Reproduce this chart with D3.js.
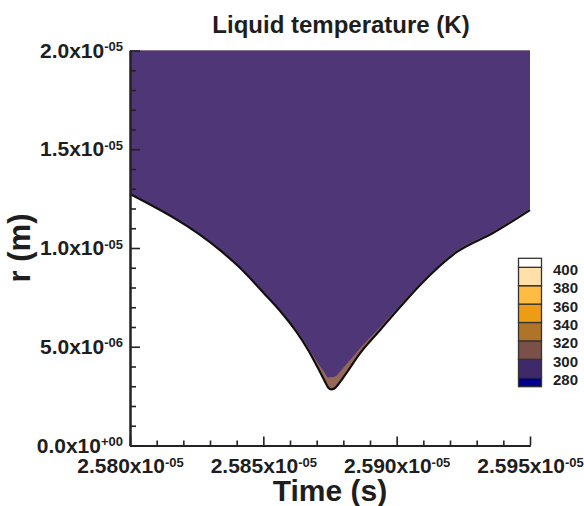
<!DOCTYPE html>
<html>
<head>
<meta charset="utf-8">
<script src="https://cdn.jsdelivr.net/npm/d3@7"></script>
<style>
  html, body { margin: 0; padding: 0; background: #fff; }
  svg { display: block; }
  text { font-family: "Liberation Sans", Arial, Helvetica, sans-serif; font-weight: bold; fill: #1e1e1e; }
</style>
</head>
<body>
<script>
// Liquid/gas interface radius over time (bottom of the liquid region)
const timeS = [
  2.58000e-5, 2.58341e-5, 2.58413e-5, 2.58503e-5, 2.58563e-5, 2.58619e-5,
  2.58668e-5, 2.58705e-5, 2.58728e-5, 2.58743e-5, 2.58754e-5, 2.58769e-5,
  2.58788e-5, 2.58814e-5, 2.58863e-5, 2.58938e-5, 2.59013e-5, 2.59088e-5,
  2.59226e-5, 2.59361e-5, 2.59500e-5
];
const rInterface = [
  12.73e-6, 9.85e-6, 8.99e-6, 7.70e-6, 6.81e-6, 5.85e-6,
  4.84e-6, 3.92e-6, 3.32e-6, 2.94e-6, 2.84e-6, 2.91e-6,
  3.22e-6, 3.72e-6, 4.68e-6, 5.85e-6, 7.01e-6, 8.13e-6,
  9.80e-6, 10.76e-6, 11.92e-6
];
// 300 K isotherm inside the liquid, just above the interface
const r300K = [
  12.73e-6, 9.85e-6, 8.99e-6, 7.73e-6, 6.86e-6, 5.95e-6,
  4.99e-6, 4.17e-6, 3.72e-6, 3.45e-6, 3.45e-6, 3.49e-6,
  3.75e-6, 4.15e-6, 4.93e-6, 6.00e-6, 7.11e-6, 8.21e-6,
  9.88e-6, 10.84e-6, 12.00e-6
];

const xMajorTicks = [2.580e-5, 2.585e-5, 2.590e-5, 2.595e-5];
const xMajorLabels = [["2.580x10", "-05"], ["2.585x10", "-05"], ["2.590x10", "-05"], ["2.595x10", "-05"]];
const xMinorTicks = [
  2.581e-5, 2.582e-5, 2.583e-5, 2.584e-5, 2.586e-5, 2.587e-5, 2.588e-5, 2.589e-5,
  2.591e-5, 2.592e-5, 2.593e-5, 2.594e-5
];
const yMajorTicks = [0, 5e-6, 1e-5, 1.5e-5, 2e-5];
const yMajorLabels = [["0.0x10", "+00"], ["5.0x10", "-06"], ["1.0x10", "-05"], ["1.5x10", "-05"], ["2.0x10", "-05"]];
const yMinorTicks = [
  1e-6, 2e-6, 3e-6, 4e-6, 6e-6, 7e-6, 8e-6, 9e-6,
  11e-6, 12e-6, 13e-6, 14e-6, 16e-6, 17e-6, 18e-6, 19e-6
];

// Contour levels (K) and their fill colours, lowest band first
const levels = [280, 300, 320, 340, 360, 380, 400];
const bandColors = ["#00008e", "#3e2a6b", "#7a5048", "#b07428", "#ee9c14", "#ffbb42", "#ffe0a8", "#ffffff"];

const liquidFill = "#4f3676";   // 280–300 K band as shaded in the field
const warmFill = "#966858";     // 300–320 K band near the interface

const W = 584, H = 506;
const svg = d3.select("body").append("svg").attr("width", W).attr("height", H);

const x = d3.scaleLinear().domain([2.58e-5, 2.595e-5]).range([130, 530]);
const y = d3.scaleLinear().domain([0, 2e-5]).range([445.5, 50.5]);

const pts = timeS.map((t, i) => ({ t, r: rInterface[i], r3: r300K[i] }));
const rTop = 2e-5;

// Warm band: from the interface up to the top of the domain
svg.append("path")
  .datum(pts)
  .attr("fill", warmFill)
  .attr("d", d3.area().curve(d3.curveMonotoneX)
    .x(d => x(d.t)).y0(d => y(d.r)).y1(y(rTop)));

// Bulk liquid: above the 300 K isotherm
svg.append("path")
  .datum(pts)
  .attr("fill", liquidFill)
  .attr("d", d3.area().curve(d3.curveMonotoneX)
    .x(d => x(d.t)).y0(d => y(d.r3)).y1(y(rTop)));

// Interface line
svg.append("path")
  .datum(pts)
  .attr("fill", "none")
  .attr("stroke", "#111")
  .attr("stroke-width", 2.2)
  .attr("stroke-linejoin", "round")
  .attr("d", d3.line().curve(d3.curveMonotoneX).x(d => x(d.t)).y(d => y(d.r)));

// Axes: minor and major ticks pointing into the plot
function styleAxis(g) {
  g.selectAll("path.domain").attr("stroke", "#222").attr("stroke-width", 2);
  g.selectAll(".tick line").attr("stroke", "#222").attr("stroke-width", 1.6);
}
function supLabels(g, labels, supDy, supSize) {
  g.selectAll(".tick text").each(function (d, i) {
    const t = d3.select(this);
    t.text(null);
    t.append("tspan").text(labels[i][0]);
    t.append("tspan").attr("dy", supDy).attr("font-size", supSize).text(labels[i][1]);
  });
}

svg.append("g").attr("transform", "translate(0,445.5)")
  .call(d3.axisBottom(x).tickValues(xMinorTicks).tickSize(-5).tickSizeOuter(0).tickFormat(""))
  .call(styleAxis);
svg.append("g").attr("transform", "translate(130,0)")
  .call(d3.axisLeft(y).tickValues(yMinorTicks).tickSize(-6).tickSizeOuter(0).tickFormat(""))
  .call(styleAxis);

const xAxisG = svg.append("g").attr("transform", "translate(0,445.5)")
  .call(d3.axisBottom(x).tickValues(xMajorTicks).tickSize(-9).tickSizeOuter(0).tickPadding(13))
  .call(styleAxis);
xAxisG.selectAll(".tick text").attr("font-size", 21).attr("font-family", null).attr("fill", "#1e1e1e");
supLabels(xAxisG, xMajorLabels, "-0.5em", 13);

const yAxisG = svg.append("g").attr("transform", "translate(130,0)")
  .call(d3.axisLeft(y).tickValues(yMajorTicks).tickSize(-10).tickSizeOuter(0).tickPadding(7))
  .call(styleAxis);
yAxisG.selectAll(".tick text").attr("font-size", 21).attr("font-family", null).attr("fill", "#1e1e1e");
supLabels(yAxisG, yMajorLabels, "-0.5em", 13);

// Titles
svg.append("text").attr("x", 341).attr("y", 33).attr("text-anchor", "middle")
  .attr("font-size", 24).text("Liquid temperature (K)");
svg.append("text").attr("x", 330).attr("y", 501).attr("text-anchor", "middle")
  .attr("font-size", 30).text("Time (s)");
svg.append("text").attr("transform", "translate(30,248) rotate(-90)").attr("text-anchor", "middle")
  .attr("font-size", 31).text("r (m)");

// Colour legend: one box per band, level labels on the boundaries
const legY = d3.scaleLinear().domain([280, 400]).range([377.7, 267.3]);
const bandStep = legY(280) - legY(300);
const endBox = 9;
const leg = svg.append("g");
leg.selectAll("rect").data(bandColors).enter().append("rect")
  .attr("x", 518.5)
  .attr("width", 23)
  .attr("y", (c, i) => i === 0 ? legY(280)
    : (i === bandColors.length - 1 ? legY(400) - endBox : legY(levels[i - 1] + 20)))
  .attr("height", (c, i) => (i === 0 || i === bandColors.length - 1) ? endBox : bandStep)
  .attr("fill", c => c)
  .attr("stroke", "#333")
  .attr("stroke-width", 1.3);
leg.selectAll("text").data(levels).enter().append("text")
  .attr("x", 553).attr("y", d => legY(d) + 7.5)
  .attr("font-size", 15).text(d => d);
</script>
</body>
</html>
